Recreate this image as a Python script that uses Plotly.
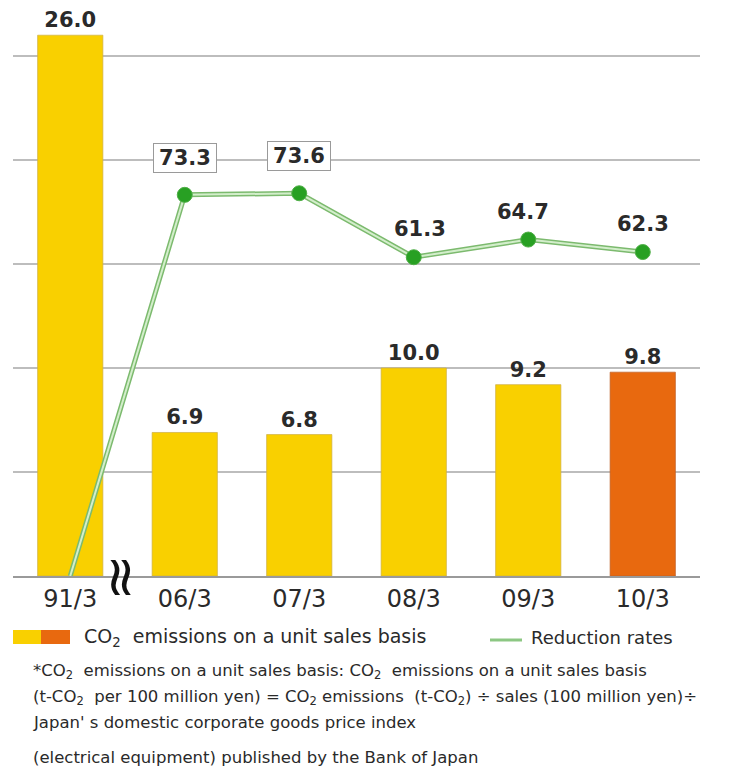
import plotly.graph_objects as go

# ---- data ----
periods = ["91/3", "06/3", "07/3", "08/3", "09/3", "10/3"]
co2_per_sales = [26.0, 6.9, 6.8, 10.0, 9.2, 9.8]          # t-CO2 per 100 million yen
reduction_rates = [0, 73.3, 73.6, 61.3, 64.7, 62.3]        # %

legend_bar_text = "CO<sub>2</sub>  emissions on a unit sales basis"
legend_line_text = "Reduction rates"
note_lines = [
    "*CO<sub>2</sub>  emissions on a unit sales basis: CO<sub>2</sub>  emissions on a unit sales basis",
    "(t-CO<sub>2</sub>  per 100 million yen) = CO<sub>2</sub> emissions  (t-CO<sub>2</sub>) ÷ sales (100 million yen)÷",
    "Japan' s domestic corporate goods price index",
    "(electrical equipment) published by the Bank of Japan",
]

# ---- layout geometry ----
W, H = 753, 775
ML, MR, MT, MB = 13, 53, 14, 199
PW, PH = W - ML - MR, H - MT - MB
Y_MAX = PH / 20.8
Y2_MAX = Y_MAX * 4

FONT = "DejaVu Sans"
TXT = "#2a2a2a"
YELLOW = "#F9D000"
ORANGE = "#E8690F"


def px_x(px):
    return (px - ML) / PW


def px_y(py):
    return (H - MB - py) / PH


bar_colors = [YELLOW] * (len(periods) - 1) + [ORANGE]
bar_edges = ["rgba(205,175,70,0.7)"] * (len(periods) - 1) + ["rgba(190,95,40,0.7)"]

fig = go.Figure()

fig.add_trace(go.Bar(
    x=periods, y=co2_per_sales,
    marker=dict(color=bar_colors, line=dict(color=bar_edges, width=1)),
    texttemplate="%{y:.1f}", textposition="outside",
    textfont=dict(family=FONT, size=21, color=TXT, weight="bold"),
    cliponaxis=False, showlegend=False, yaxis="y",
))

# reduction-rate line: darker outline under a pale core
fig.add_trace(go.Scatter(
    x=periods, y=reduction_rates, mode="lines",
    line=dict(color="#7cba6e", width=5),
    showlegend=False, yaxis="y2", cliponaxis=False,
))
fig.add_trace(go.Scatter(
    x=periods, y=reduction_rates, mode="lines+markers",
    line=dict(color="#d3eecb", width=2),
    marker=dict(size=[0] + [15] * (len(periods) - 1), color="#28a023",
                opacity=1, line=dict(color="#4fae47", width=1)),
    showlegend=False, yaxis="y2", cliponaxis=False,
))

annotations = []

# labels over the reduction-rate points
shift_x = [0, 0, 0, 6, -5, 0]
for i, (p, v) in enumerate(zip(periods, reduction_rates)):
    if i == 0:
        continue
    boxed = i in (1, 2)
    label = dict(
        x=p, y=v, xref="x", yref="y2", text=f"{v:.1f}", showarrow=False,
        yshift=37 if boxed else 28, xshift=shift_x[i],
        font=dict(family=FONT, size=21, color=TXT, weight="bold"),
    )
    if boxed:
        label.update(bgcolor="white", bordercolor="#9a9a9a", borderwidth=1,
                     borderpad=2, width=58, height=24)
    annotations.append(label)

# axis break mark between 91/3 and 06/3 (a wavy pair turned upright)
annotations.append(dict(
    x=px_x(123), y=px_y(577), xref="paper", yref="paper", text="≈",
    textangle=90, showarrow=False, font=dict(family=FONT, size=56, color="#111"),
    xanchor="center", yanchor="middle",
))

# legend
shapes = [
    dict(type="rect", xref="paper", yref="paper",
         x0=px_x(13), x1=px_x(41), y0=px_y(644), y1=px_y(630),
         fillcolor=YELLOW, line=dict(width=0)),
    dict(type="rect", xref="paper", yref="paper",
         x0=px_x(41), x1=px_x(70), y0=px_y(644), y1=px_y(630),
         fillcolor=ORANGE, line=dict(width=0)),
    dict(type="line", xref="paper", yref="paper",
         x0=px_x(490), x1=px_x(522), y0=px_y(640), y1=px_y(640),
         line=dict(color="#8cc783", width=3)),
]
annotations.append(dict(
    x=px_x(82), y=px_y(637), xref="paper", yref="paper", text=legend_bar_text,
    showarrow=False, xanchor="left", yanchor="middle",
    font=dict(family=FONT, size=19, color=TXT),
))
annotations.append(dict(
    x=px_x(529), y=px_y(637), xref="paper", yref="paper", text=legend_line_text,
    showarrow=False, xanchor="left", yanchor="middle",
    font=dict(family=FONT, size=18, color=TXT),
))

# footnote
for line, py in zip(note_lines, [672, 697, 722, 757]):
    annotations.append(dict(
        x=px_x(31), y=px_y(py), xref="paper", yref="paper", text=line,
        showarrow=False, xanchor="left", yanchor="middle",
        font=dict(family=FONT, size=16.5, color=TXT),
    ))

fig.update_layout(
    width=W, height=H,
    margin=dict(l=ML, r=MR, t=MT, b=MB, pad=0),
    paper_bgcolor="white", plot_bgcolor="white",
    bargap=0.43,
    xaxis=dict(type="category", showline=True, linecolor="#9a9a9a", linewidth=2,
               showgrid=False, ticks="", ticklabelstandoff=0,
               tickfont=dict(family=FONT, size=24, color=TXT)),
    yaxis=dict(range=[0, Y_MAX], dtick=5, showticklabels=False, zeroline=False,
               showgrid=True, gridcolor="#bdbdbd", gridwidth=2, ticks=""),
    yaxis2=dict(range=[0, Y2_MAX], overlaying="y", showgrid=False,
                showticklabels=False, zeroline=False, ticks=""),
    shapes=shapes,
    annotations=annotations,
)

fig.write_html("out.html")
